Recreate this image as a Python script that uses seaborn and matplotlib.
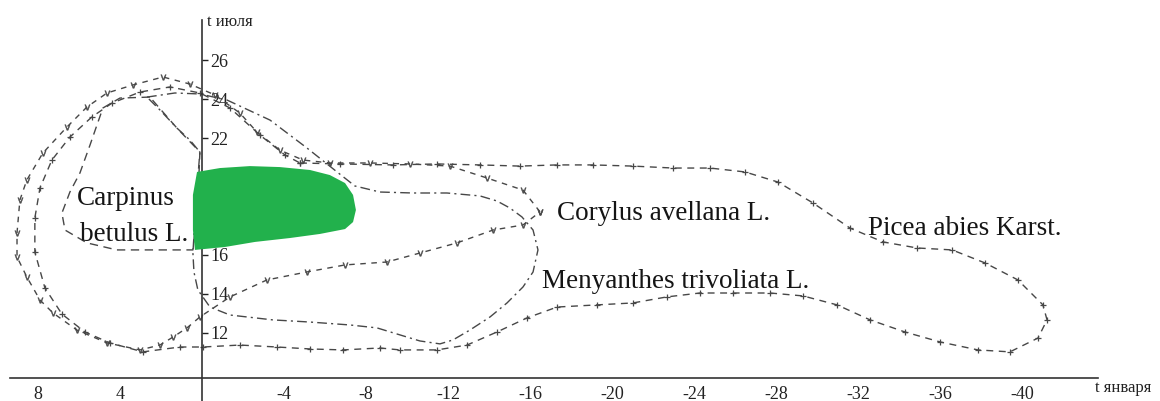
import numpy as np
import pandas as pd
import matplotlib
matplotlib.use("Agg")
import matplotlib.pyplot as plt
import seaborn as sns

# ---- data: (January temperature, July temperature) along each contour ----
picea_jan = [-4.78, -6.73, -9.32, -11.46, -13.56, -15.51, -17.32, -19.07, -21.02, -22.98,
             -24.78, -26.49, -28.10, -29.80, -31.61, -33.22, -34.88, -36.59, -38.20, -39.80,
             -41.02, -41.22, -40.78, -39.41, -37.85, -36.00, -34.29, -32.59, -30.98, -29.32,
             -27.71, -25.90, -24.29, -22.68, -21.02, -19.27, -17.32, -15.85, -14.39, -12.93,
             -11.46, -9.66, -8.68, -6.88, -5.27, -3.66, -1.85, -0.05, 1.07, 2.88,
             4.49, 5.71, 6.83, 7.66, 8.15, 8.15, 7.90, 7.32, 6.44, 5.37,
             4.39, 3.02, 1.56, 0.10, -1.37, -2.83, -4.05]
picea_jul = [20.72, 20.67, 20.62, 20.67, 20.62, 20.56, 20.62, 20.62, 20.56, 20.46,
             20.46, 20.26, 19.74, 18.67, 17.38, 16.67, 16.36, 16.26, 15.59, 14.72,
             13.44, 12.67, 11.74, 11.03, 11.13, 11.54, 12.05, 12.67, 13.44, 13.90,
             14.05, 14.05, 14.05, 13.85, 13.54, 13.44, 13.33, 12.77, 12.05, 11.38,
             11.13, 11.13, 11.23, 11.13, 11.18, 11.28, 11.38, 11.28, 11.28, 11.03,
             11.49, 12.05, 12.97, 14.31, 16.15, 17.90, 19.44, 20.87, 22.05, 23.08,
             23.79, 24.36, 24.62, 24.31, 23.54, 22.15, 21.13]

corylus_jan = [-16.49, -15.66, -13.90, -12.10, -10.15, -8.20, -6.24, -4.93, -3.80, -2.68,
               -1.85, -0.63, 0.59, 1.90, 3.37, 4.63, 5.61, 6.59, 7.76, 8.54,
               8.88, 9.02, 9.02, 8.54, 7.90, 7.27, 6.10, 4.63, 3.02, 2.05,
               1.41, 0.73, 0.10, -1.37, -3.17, -5.12, -6.98, -9.02, -10.63, -12.44,
               -14.20, -15.66]
corylus_jul = [18.21, 19.33, 19.95, 20.56, 20.67, 20.72, 20.72, 20.87, 21.38, 22.31,
               23.28, 24.21, 24.77, 25.13, 24.72, 24.31, 23.59, 22.56, 21.23, 19.85,
               18.82, 17.13, 15.90, 14.87, 13.69, 13.03, 12.15, 11.49, 11.13, 11.38,
               11.79, 12.26, 12.82, 13.85, 14.72, 15.13, 15.49, 15.64, 16.10, 16.62,
               17.28, 17.54]

menyanthes_jan = [2.68, 1.32, 0.10, -1.22, -3.32, -5.12, -6.59, -7.46, -8.68, -10.29,
                  -11.95, -13.56, -14.39, -15.02, -15.61, -16.15, -16.39, -16.15, -15.66, -14.88,
                  -14.05, -13.07, -12.24, -11.61, -10.63, -9.66, -8.54, -7.22, -5.27, -3.46,
                  -1.37, -0.39, 0.20, 0.39, 0.44, 0.29, 0.10, 0.59, 1.22, 2.05]
menyanthes_jul = [24.10, 24.31, 24.26, 23.95, 22.92, 21.49, 20.26, 19.54, 19.23, 19.18,
                  19.18, 19.03, 18.77, 18.41, 17.95, 17.28, 16.26, 15.13, 14.36, 13.54,
                  12.82, 12.15, 11.64, 11.44, 11.59, 11.90, 12.26, 12.41, 12.56, 12.67,
                  12.92, 13.33, 14.21, 15.13, 16.10, 18.82, 21.28, 21.90, 22.51, 23.44]

carpinus_jan = [2.54, 4.00, 4.83, 5.12, 5.46, 5.95, 6.44, 6.83, 6.68, 5.61,
                4.15, 2.54, 0.44, 0.20, 0.10, 1.22]
carpinus_jul = [24.10, 24.05, 23.54, 22.67, 21.64, 20.21, 19.23, 18.15, 17.28, 16.62,
                16.26, 16.26, 16.26, 18.80, 21.28, 22.51]

site_jan = [0.24, -0.88, -2.34, -3.80, -5.27, -6.24, -6.98, -7.37, -7.51, -7.37,
            -6.98, -5.76, -4.29, -2.59, -1.12, 0.34, 0.44, 0.44]
site_jul = [20.26, 20.46, 20.56, 20.51, 20.36, 20.10, 19.69, 19.08, 18.31, 17.69,
            17.33, 17.08, 16.87, 16.67, 16.41, 16.26, 17.28, 19.08]

x_ticks = [8, 4, -4, -8, -12, -16, -20, -24, -28, -32, -36, -40]
y_ticks = [12, 14, 16, 18, 20, 22, 24, 26]
x_label = "t января"
y_label = "t июля"
species = ["Carpinus\nbetulus L.", "Corylus avellana L.", "Menyanthes trivoliata L.", "Picea abies Karst."]

# ---- plotting ----
sns.set_theme(style="white")
plt.rcParams["font.family"] = ["Liberation Serif", "DejaVu Serif"]

fig = plt.figure(figsize=(11.6, 4.01), dpi=100)
ax = fig.add_axes([0, 0, 1, 1])
ax.set_facecolor("white")

line_col = "#474747"


def closed(xs, ys):
    return pd.DataFrame({"jan": list(xs) + [xs[0]], "jul": list(ys) + [ys[0]]})


ax.fill(site_jan, site_jul, color="#22b14c", zorder=3, lw=0)

sns.lineplot(data=closed(picea_jan, picea_jul), x="jan", y="jul", sort=False, estimator=None,
             ax=ax, color=line_col, lw=1.0, linestyle=(0, (5, 4)), marker="+", markersize=5,
             markeredgewidth=0.9, markeredgecolor=line_col, zorder=2)
sns.lineplot(data=closed(corylus_jan, corylus_jul), x="jan", y="jul", sort=False, estimator=None,
             ax=ax, color=line_col, lw=1.0, linestyle=(0, (4, 4)), marker=r"$\mathsf{v}$",
             markersize=4, markeredgewidth=0.3, markeredgecolor=line_col,
             markerfacecolor=line_col, zorder=2)
sns.lineplot(data=closed(menyanthes_jan, menyanthes_jul), x="jan", y="jul", sort=False,
             estimator=None, ax=ax, color=line_col, lw=1.0, linestyle=(0, (7, 3, 1.5, 3)), zorder=2)
carp = pd.DataFrame({"jan": carpinus_jan + [carpinus_jan[0]], "jul": carpinus_jul + [carpinus_jul[0]]})
sns.lineplot(data=carp, x="jan", y="jul", sort=False, estimator=None, ax=ax, color=line_col,
             lw=1.0, linestyle=(0, (6, 4)), zorder=2)

# axes geometry (x axis reversed)
ax.set_xlim(9.85, -46.73)
ax.set_ylim(8.51, 29.08)

ax.spines["top"].set_visible(False)
ax.spines["left"].set_visible(False)
ax.spines["right"].set_position(("data", 0))
ax.spines["right"].set_bounds(8.51, 28.05)
ax.spines["bottom"].set_position(("data", 9.69))
ax.spines["bottom"].set_bounds(9.37, -43.7)
for s in ("right", "bottom"):
    ax.spines[s].set_color("#333333")
    ax.spines[s].set_linewidth(1.2)

ax.yaxis.set_ticks_position("right")
ax.set_yticks(y_ticks)
ax.set_yticklabels([str(v) for v in y_ticks])
ax.set_xticks(x_ticks)
ax.set_xticklabels([str(v) for v in x_ticks])
ax.tick_params(axis="y", direction="out", length=4, width=1, pad=2, labelsize=13,
               colors="#222222", right=True, left=False)
ax.tick_params(axis="x", direction="in", length=4, width=1, pad=6, labelsize=13,
               colors="#222222")
ax.set_xlabel("")
ax.set_ylabel("")

ax.text(-0.24, 27.95, y_label, ha="left", va="center", fontsize=12, color="#222222")
ax.text(-43.56, 9.18, x_label, ha="left", va="center", fontsize=12, color="#222222")

txt_col = "#151515"
fs = 19.5
ax.text(6.10, 18.56, "Carpinus", ha="left", va="baseline", fontsize=fs, color=txt_col, zorder=5)
ax.text(5.95, 16.72, "betulus L.", ha="left", va="baseline", fontsize=fs, color=txt_col, zorder=5)
ax.text(-17.32, 17.79, species[1], ha="left", va="baseline", fontsize=fs, color=txt_col, zorder=5)
ax.text(-16.59, 14.31, species[2], ha="left", va="baseline", fontsize=fs, color=txt_col, zorder=5)
ax.text(-32.49, 17.03, species[3], ha="left", va="baseline", fontsize=fs, color=txt_col, zorder=5)

fig.savefig("out.png", dpi=100, facecolor="white")
